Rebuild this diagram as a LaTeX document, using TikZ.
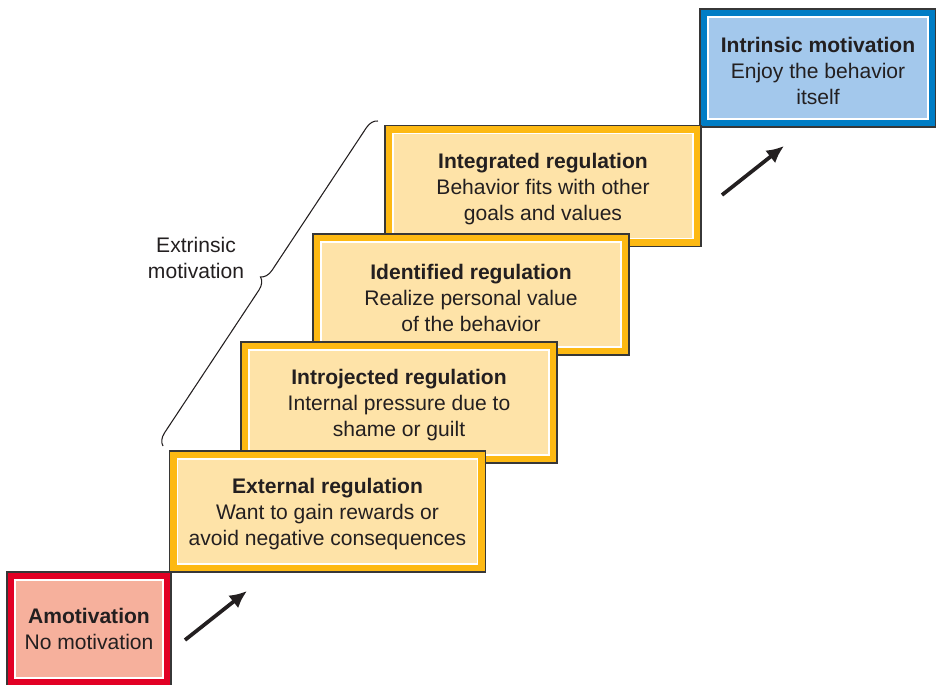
\documentclass[tikz,border=0pt]{standalone}
\usepackage{fontspec}
\setmainfont{Liberation Sans}
\usetikzlibrary{arrows.meta}
\usetikzlibrary{decorations.pathreplacing}
\tikzset{>={Latex[length=13pt,width=12pt]}}
\definecolor{edgegray}{RGB}{55,55,55}
\definecolor{txt}{RGB}{35,31,32}
\definecolor{redrim}{RGB}{226,0,36}
\definecolor{redfill}{RGB}{246,176,156}
\definecolor{yelrim}{RGB}{253,185,19}
\definecolor{yelfill}{RGB}{254,227,168}
\definecolor{bluerim}{RGB}{0,125,197}
\definecolor{bluefill}{RGB}{163,200,236}
\newcommand{\steptitle}[1]{\rule{0pt}{16pt}\textbf{#1}}
\tikzset{
    stage/.style 2 args={draw=edgegray, line width=0.9pt, fill=#1, text=txt, align=center,
        inner sep=0pt, font=\fontsize{15.8}{19.5}\selectfont,
        path picture={\draw[white, line width=1.2pt, fill=#2]
            ([shift={(6pt,-6pt)}]path picture bounding box.north west) rectangle
            ([shift={(-6pt,6pt)}]path picture bounding box.south east);}},
    wide/.style={minimum width=237pt, minimum height=90.75pt},
}

\begin{document}
\begin{tikzpicture}[x=0.75pt, y=0.75pt]
    \useasboundingbox (0, 0) rectangle (936, -685);
    % top step first, lower steps lie over it
    \node[stage={bluerim}{bluefill}, minimum width=177pt, minimum height=88.5pt](intrinsic) at (818, -68)
        {\steptitle{Intrinsic motivation}\\Enjoy the behavior\\itself};
    \node[stage={yelrim}{yelfill}, wide](integrated) at (543, -186)
        {\steptitle{Integrated regulation}\\Behavior fits with other\\goals and values};
    \node[stage={yelrim}{yelfill}, wide](identified) at (471, -294.5)
        {\steptitle{Identified regulation}\\Realize personal value\\of the behavior};
    \node[stage={yelrim}{yelfill}, wide](introjected) at (399, -402.5)
        {\steptitle{Introjected regulation}\\Internal pressure due to\\shame or guilt};
    \node[stage={yelrim}{yelfill}, wide](external) at (327.5, -511.5)
        {\steptitle{External regulation}\\Want to gain rewards or\\avoid negative consequences};
    \node[stage={redrim}{redfill}, minimum width=123pt, minimum height=85.5pt](amotivation) at (89, -629)
        {\textbf{Amotivation}\\No motivation};

    % arrows
    \coordinate(lowtail) at (185, -640);
    \coordinate(lowhead) at (247, -591);
    \coordinate(hightail) at (722, -195);
    \coordinate(highhead) at (784, -146);
    \draw[->, line width=2.8pt, txt](lowtail)--(lowhead);
    \draw[->, line width=2.8pt, txt](hightail)--(highhead);

    % brace
    \coordinate(bracelow) at (163, -446);
    \coordinate(bracehigh) at (378, -121);
    \draw[txt, line width=0.8pt, decorate, decoration={brace, amplitude=9pt}](bracelow)--(bracehigh);
    \node[text=txt, align=center, font=\fontsize{15.8}{19.5}\selectfont](extrinsic) at (196, -258)
        {Extrinsic\\motivation};
\end{tikzpicture}
\end{document}
